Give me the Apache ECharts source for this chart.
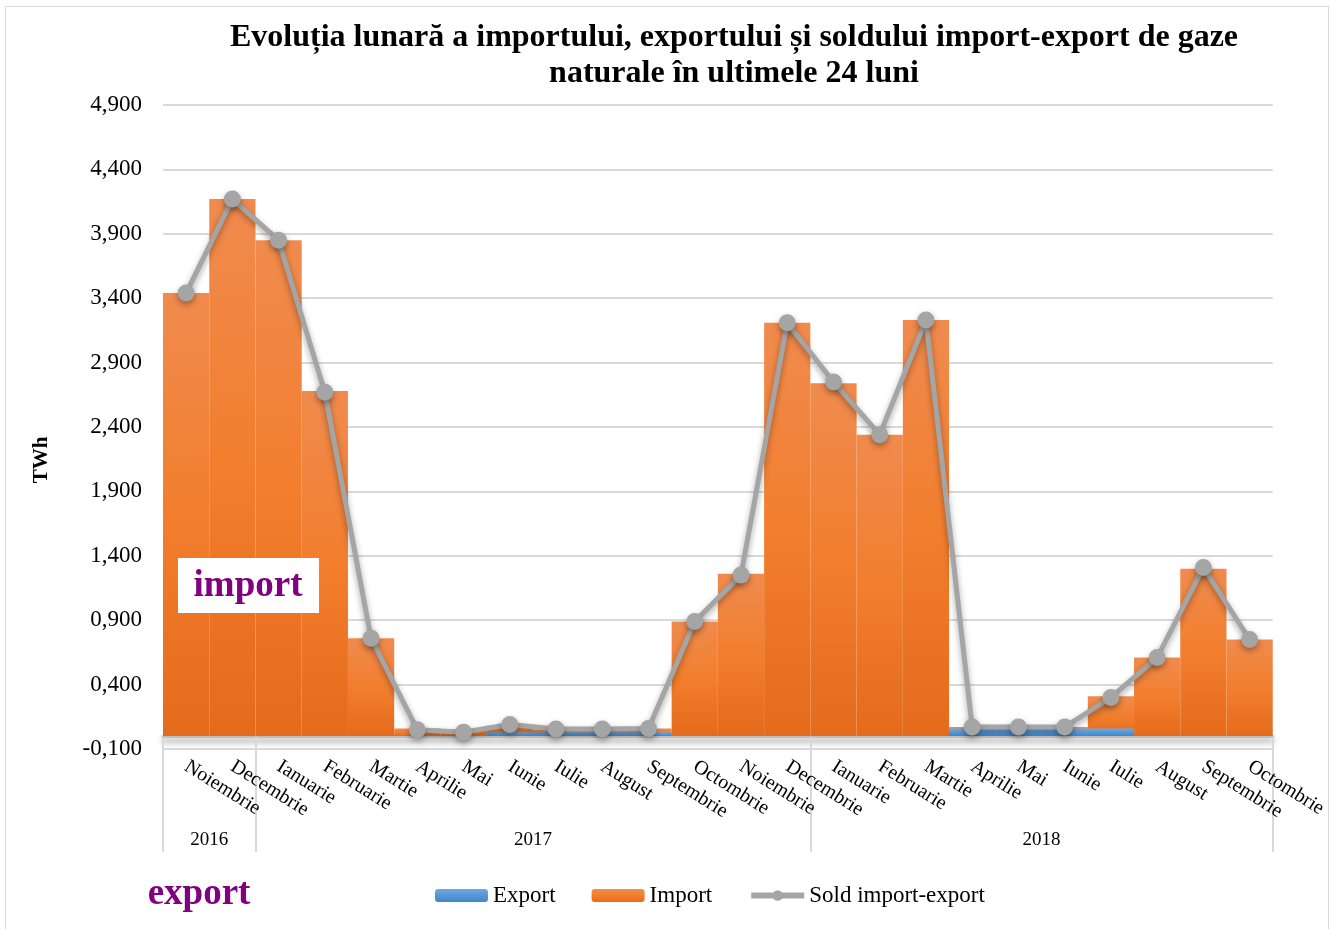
<!DOCTYPE html>
<html>
<head>
<meta charset="utf-8">
<title>Import / export gaze naturale</title>
<script src="https://cdn.jsdelivr.net/npm/echarts@6/dist/echarts.min.js"></script>
<style>
  html, body { margin: 0; padding: 0; background: #fff; }
  #chart { width: 1330px; height: 929px; }
</style>
</head>
<body>
<div id="chart"></div>
<script>
// luni (nov 2016 - oct 2018)
const months = ['Noiembrie', 'Decembrie', 'Ianuarie', 'Februarie', 'Martie', 'Aprilie', 'Mai', 'Iunie', 'Iulie', 'August', 'Septembrie', 'Octombrie',
  'Noiembrie', 'Decembrie', 'Ianuarie', 'Februarie', 'Martie', 'Aprilie', 'Mai', 'Iunie', 'Iulie', 'August', 'Septembrie', 'Octombrie']
const years = ['2016', '2017', '2018']
const yearSpans = [2, 12, 10]

// valori TWh
const importValues = [3.44, 4.17, 3.85, 2.68, 0.76, 0.06, 0.05, 0.08, 0.05, 0.05, 0.06, 0.89,
  1.26, 3.21, 2.74, 2.34, 3.23, 0.07, 0.07, 0.07, 0.31, 0.61, 1.30, 0.75]
const exportValues = [0, 0, 0, 0, 0, 0, 0, 0.03, 0.03, 0.03, 0.03, 0,
  0, 0, 0, 0, 0, 0.06, 0.06, 0.06, 0.06, 0, 0, 0]
const soldValues = [3.44, 4.17, 3.85, 2.67, 0.76, 0.05, 0.03, 0.09, 0.055, 0.055, 0.06, 0.89,
  1.25, 3.21, 2.75, 2.34, 3.23, 0.07, 0.07, 0.07, 0.30, 0.61, 1.31, 0.75]
const yTicks = [-0.1, 0.4, 0.9, 1.4, 1.9, 2.4, 2.9, 3.4, 3.9, 4.4, 4.9]

// limite si mijloace pentru axa anilor
const yearBounds = [0]
const yearMids = []
yearSpans.forEach((s, i) => {
  yearMids.push(yearBounds[i] + s / 2)
  yearBounds.push(yearBounds[i] + s)
})

const serif = '"Liberation Serif", "Times New Roman", serif'

const chart = echarts.init(document.getElementById('chart'))

const option = {
  animation: false,
  textStyle: { fontFamily: serif },
  title: {
    text: 'Evoluția lunară a importului, exportului și soldului import-export de gaze\nnaturale în ultimele 24 luni',
    left: 729,
    top: 15,
    textAlign: 'center',
    textStyle: { fontFamily: serif, fontSize: 32, fontWeight: 'bold', color: '#000', lineHeight: 36 }
  },
  legend: {
    data: [
      { name: 'Export' },
      { name: 'Import' },
      { name: 'Sold import-export', lineStyle: { width: 6 } }
    ],
    left: 430,
    top: 879,
    itemWidth: 53,
    itemHeight: 13,
    itemGap: 36,
    textStyle: { fontFamily: serif, fontSize: 23, color: '#000' }
  },
  grid: { left: 163, right: 57, top: 105, bottom: 180 },
  xAxis: [
    {
      type: 'category',
      data: months,
      axisLine: {
        lineStyle: { color: '#BFBFBF', width: 3, shadowColor: 'rgba(0,0,0,0.45)', shadowBlur: 6, shadowOffsetY: 4 }
      },
      axisTick: { show: false },
      axisLabel: { interval: 0, rotate: -32, margin: 16, fontSize: 20, color: '#000', fontFamily: serif }
    },
    {
      type: 'value',
      min: 0,
      max: 24,
      position: 'bottom',
      offset: -12,
      axisLine: { show: false },
      splitLine: { show: false },
      axisTick: {
        show: true,
        customValues: yearBounds,
        length: 115,
        lineStyle: { color: '#D9D9D9', width: 2 }
      },
      axisLabel: {
        customValues: yearMids,
        margin: 94,
        fontSize: 19,
        color: '#000',
        fontFamily: serif,
        formatter: v => years[yearMids.indexOf(v)]
      }
    }
  ],
  yAxis: {
    type: 'value',
    min: -0.1,
    max: 4.9,
    axisLine: { show: false },
    axisTick: { show: false, customValues: yTicks },
    splitLine: { lineStyle: { color: '#D9D9D9', width: 2 } },
    axisLabel: {
      customValues: yTicks,
      margin: 21,
      fontSize: 23,
      color: '#000',
      fontFamily: serif,
      formatter: v => v.toFixed(3).replace('.', ',')
    }
  },
  series: [
    {
      name: 'Import',
      type: 'bar',
      data: importValues,
      barWidth: '100%',
      barGap: '-100%',
      itemStyle: {
        color: new echarts.graphic.LinearGradient(0, 0, 0, 1, [
          { offset: 0, color: '#F08B4E' },
          { offset: 0.5, color: '#F27E2E' },
          { offset: 1, color: '#E46B1B' }
        ])
      }
    },
    {
      name: 'Export',
      type: 'bar',
      data: exportValues,
      barWidth: '100%',
      barGap: '-100%',
      itemStyle: {
        color: new echarts.graphic.LinearGradient(0, 0, 0, 1, [
          { offset: 0, color: '#6FA8E0' },
          { offset: 1, color: '#3E86CC' }
        ])
      }
    },
    {
      name: 'Sold import-export',
      type: 'line',
      data: soldValues,
      symbol: 'circle',
      symbolSize: 17,
      z: 5,
      lineStyle: { color: '#A5A5A5', width: 5, shadowColor: 'rgba(0,0,0,0.35)', shadowBlur: 6, shadowOffsetY: 3 },
      itemStyle: { color: '#A5A5A5', shadowColor: 'rgba(0,0,0,0.35)', shadowBlur: 6, shadowOffsetY: 3 }
    }
  ],
  graphic: [
    {
      type: 'rect',
      left: 3, top: 4,
      shape: { width: 1323, height: 923 },
      style: { fill: 'none', stroke: '#D9D9D9', lineWidth: 1 },
      silent: true
    },
    {
      type: 'text',
      x: 42, y: 460,
      rotation: Math.PI / 2,
      style: { text: 'TWh', font: 'bold 21px ' + serif, fill: '#000', align: 'center', verticalAlign: 'middle' }
    },
    {
      type: 'rect',
      x: 178, y: 558,
      z: 100,
      shape: { x: 0, y: 0, width: 141, height: 55 },
      style: { fill: '#fff' }
    },
    {
      type: 'text',
      x: 248, y: 586,
      z: 101,
      style: { text: 'import', font: 'bold 37px ' + serif, fill: '#800080', align: 'center', verticalAlign: 'middle' }
    },
    {
      type: 'text',
      x: 199, y: 894,
      z: 101,
      style: { text: 'export', font: 'bold 37px ' + serif, fill: '#800080', align: 'center', verticalAlign: 'middle' }
    }
  ]
}

chart.setOption(option)
</script>
</body>
</html>
